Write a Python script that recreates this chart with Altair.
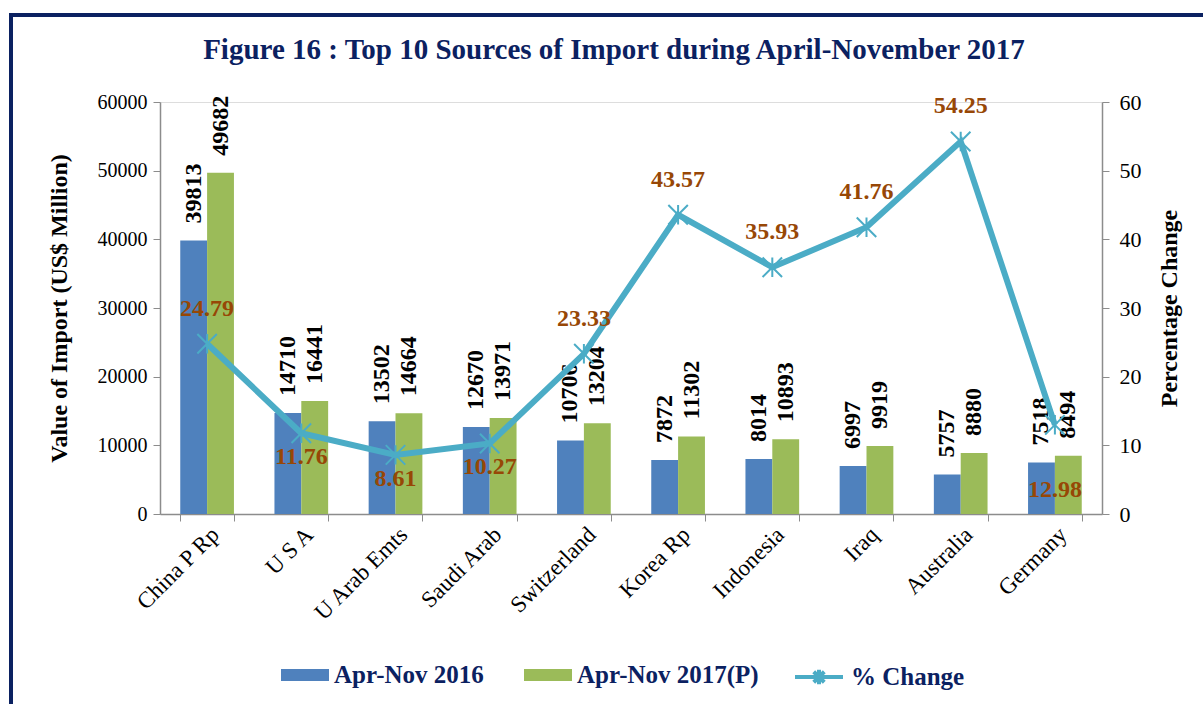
import altair as alt
import pandas as pd

countries = ["China P Rp", "U S A", "U Arab Emts", "Saudi Arab", "Switzerland",
             "Korea Rp", "Indonesia", "Iraq", "Australia", "Germany"]
values_2016 = [39813, 14710, 13502, 12670, 10706, 7872, 8014, 6997, 5757, 7518]
values_2017 = [49682, 16441, 14664, 13971, 13204, 11302, 10893, 9919, 8880, 8494]
pct_change = [24.79, 11.76, 8.61, 10.27, 23.33, 43.57, 35.93, 41.76, 54.25, 12.98]
pct_label_side = ["above", "below", "below", "below", "above",
                  "above", "above", "above", "above", "low"]
series_names = ["Apr-Nov 2016", "Apr-Nov 2017(P)"]
line_name = "% Change"

SERIF = "Liberation Serif"
NAVY = "#0B2161"
BROWN = "#974706"
BLUE = "#4F81BD"
GREEN = "#9BBB59"
TEAL = "#4BACC6"
GREY = "#8C8C8C"

rows = []
for c, a, b in zip(countries, values_2016, values_2017):
    rows.append({"country": c, "period": series_names[0], "value": a})
    rows.append({"country": c, "period": series_names[1], "value": b})
bars_df = pd.DataFrame(rows)
pct_df = pd.DataFrame({"country": countries, "pct": pct_change,
                       "side": pct_label_side, "series": [line_name] * len(countries)})

x_axis = alt.Axis(title=None, labelAngle=-45, labelFont=SERIF, labelFontSize=23,
                  labelColor="black", domainColor=GREY, domainWidth=1.5,
                  tickColor=GREY, tickSize=7, tickBand="extent", labelPadding=2)
x_scale = alt.Scale(paddingInner=0.43, paddingOuter=0.215)


def x_enc():
    return alt.X("country:N", sort=countries, scale=x_scale, axis=x_axis)


bars = alt.Chart(bars_df).mark_bar().encode(
    x=x_enc(),
    xOffset=alt.XOffset("period:N", sort=series_names),
    y=alt.Y("value:Q", scale=alt.Scale(domain=[0, 60000]),
            axis=alt.Axis(title="Value of Import  (US$ Million)", values=list(range(0, 60001, 10000)),
                          format="d", grid=False, labelFont=SERIF, labelFontSize=20,
                          labelColor="black", titleFont=SERIF, titleFontSize=24,
                          titleFontWeight="bold", titleColor="black", titlePadding=26,
                          domainColor=GREY, domainWidth=1.5, tickColor=GREY, tickSize=7,
                          labelPadding=6)),
    color=alt.Color("period:N", sort=series_names,
                    scale=alt.Scale(domain=series_names, range=[BLUE, GREEN]),
                    legend=alt.Legend(title=None, orient="none", legendX=121, legendY=549,
                                      direction="horizontal",
                                      symbolType="M-1,-0.25H1V0.25H-1Z", symbolSize=2304,
                                      symbolStrokeWidth=0, labelFont=SERIF, labelFontSize=25,
                                      labelFontWeight="bold", labelColor=NAVY, labelOffset=5,
                                      columnPadding=40, labelLimit=300)),
)

bar_text = alt.Chart(bars_df).mark_text(
    angle=270, align="left", baseline="middle", dx=17, font=SERIF,
    fontSize=24, fontWeight="bold", color="black"
).encode(
    x=x_enc(),
    xOffset=alt.XOffset("period:N", sort=series_names),
    y=alt.Y("value:Q"),
    text=alt.Text("value:Q", format="d"),
)

frame_df = pd.DataFrame({"k": [0]})
frame = alt.Chart(frame_df).mark_rect(fill=None, stroke=NAVY, strokeWidth=4).encode(
    x=alt.value(-149), x2=alt.value(1100), y=alt.value(-87), y2=alt.value(700)
)

left = alt.layer(frame, bars, bar_text)

y_pct = alt.Y("pct:Q", scale=alt.Scale(domain=[0, 60]),
              axis=alt.Axis(title="Percentage Change", orient="right",
                            values=list(range(0, 61, 10)), grid=False,
                            labelFont=SERIF, labelFontSize=22, labelColor="black",
                            titleFont=SERIF, titleFontSize=24, titleFontWeight="bold",
                            titleColor="black", titleAngle=270, titlePadding=40,
                            domainColor=GREY, domainWidth=1.5, tickColor=GREY,
                            tickSize=7, labelPadding=10))

line = alt.Chart(pct_df).mark_line(strokeWidth=6).encode(
    x=x_enc(), y=y_pct,
    stroke=alt.Stroke("series:N", scale=alt.Scale(domain=[line_name], range=[TEAL]),
                      legend=alt.Legend(title=None, orient="none", legendX=633, legendY=549,
                                        symbolType="M-1,0H1M-0.22,-0.22L0.22,0.22M-0.22,0.22L0.22,-0.22M0,-0.3V0.3",
                                        symbolSize=2304, symbolStrokeWidth=4,
                                        labelFont=SERIF, labelFontSize=25,
                                        labelFontWeight="bold", labelColor=NAVY,
                                        labelOffset=6, labelLimit=300)),
)

points = alt.Chart(pct_df).mark_point(
    shape="M-1,-1L1,1M-1,1L1,-1M0,-1V1", size=380, filled=False,
    stroke=TEAL, strokeWidth=2, opacity=1
).encode(x=x_enc(), y=alt.Y("pct:Q"))

text_common = dict(font=SERIF, fontSize=24, fontWeight="bold", color=BROWN, align="center")
pct_above = alt.Chart(pct_df).transform_filter(alt.datum.side == "above").mark_text(
    baseline="middle", dy=-35, **text_common
).encode(x=x_enc(), y=alt.Y("pct:Q"), text=alt.Text("pct:Q", format=".2f"))
pct_below = alt.Chart(pct_df).transform_filter(alt.datum.side == "below").mark_text(
    baseline="middle", dy=24, **text_common
).encode(x=x_enc(), y=alt.Y("pct:Q"), text=alt.Text("pct:Q", format=".2f"))
pct_low = alt.Chart(pct_df).transform_filter(alt.datum.side == "low").mark_text(
    baseline="middle", dy=65, **text_common
).encode(x=x_enc(), y=alt.Y("pct:Q"), text=alt.Text("pct:Q", format=".2f"))

right = alt.layer(line, points, pct_above, pct_below, pct_low)

chart = alt.layer(left, right).resolve_scale(y="independent").properties(
    width=942, height=412,
    autosize=alt.AutoSizeParams(type="none"),
    padding={"left": 160, "top": 102, "right": 101, "bottom": 190},
    title=alt.TitleParams(
        "Figure 16 : Top 10 Sources of Import during April-November 2017",
        font=SERIF, fontSize=29, fontWeight="bold", color=NAVY,
        anchor="middle", frame="group", offset=-52, dx=-17),
).configure_view(stroke=None).configure(background="white")

chart.save("out.html", embed_options={"renderer": "svg", "actions": False})
